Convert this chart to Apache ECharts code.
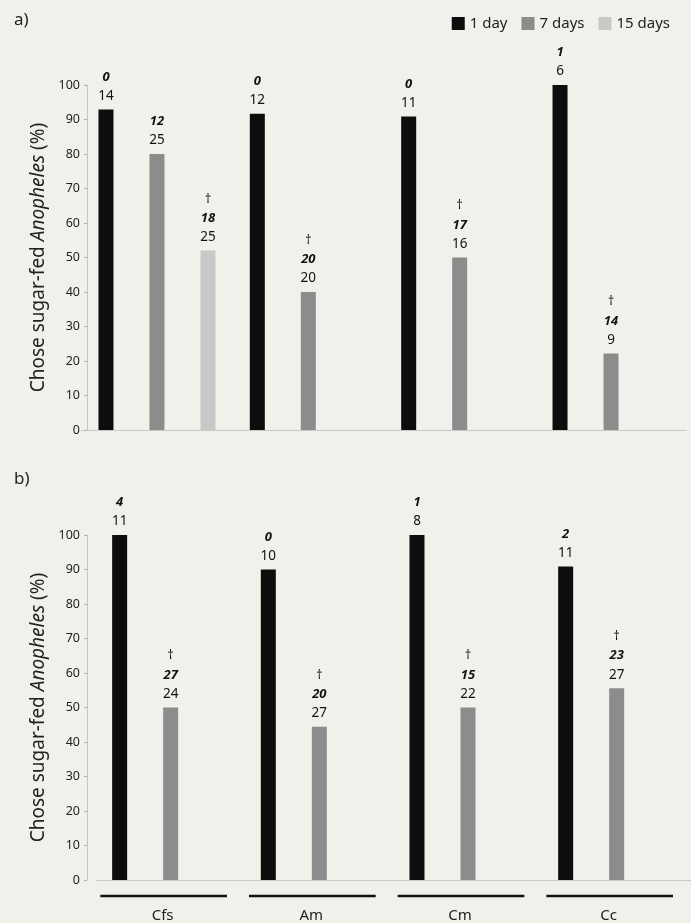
<!DOCTYPE html>
<html>
<head>
<meta charset="utf-8">
<script src="https://cdn.jsdelivr.net/npm/echarts@6/dist/echarts.min.js"></script>
<style>
html,body{margin:0;padding:0;background:#f1f0eb;}
#chart{width:691px;height:923px;}
</style>
</head>
<body>
<div id="chart"></div>
<script>
// ---- data ----
const categories = ['Cfs', 'Am', 'Cm', 'Cc'];
const seriesNames = ['1 day', '7 days', '15 days'];

// panel a) percentages
const aDay1 = [92.9, 91.7, 90.9, 100];
const aDay7 = [80, 40, 50, 22.2];
const aDay15 = [52, null, null, null];
// panel a) annotations: n (regular), bold italic count, dagger
const aN1 = [14, 12, 11, 6];
const aK1 = [0, 0, 0, 1];
const aD1 = [false, false, false, false];
const aN7 = [25, 20, 16, 9];
const aK7 = [12, 20, 17, 14];
const aD7 = [false, true, true, true];
const aN15 = [25, null, null, null];
const aK15 = [18, null, null, null];
const aD15 = [true, false, false, false];

// panel b) percentages
const bDay1 = [100, 90, 100, 90.9];
const bDay7 = [50, 44.4, 50, 55.6];
const bDay15 = [null, null, null, null];
const bN1 = [11, 10, 8, 11];
const bK1 = [4, 0, 1, 2];
const bD1 = [false, false, false, false];
const bN7 = [24, 27, 22, 27];
const bK7 = [27, 20, 15, 23];
const bD7 = [true, true, true, true];

const yMin = 0, yMax = 100, yStep = 10;

// ---- styles ----
const FONT = 'Noto Sans';
const colors = ['#0d0d0d', '#8c8c8c', '#c8c8c8'];

function makeLabel(n, k, d) {
  return {
    show: true,
    position: 'top',
    distance: 4,
    color: '#111',
    fontFamily: FONT,
    formatter: function (p) {
      const i = p.dataIndex;
      if (n[i] === null || n[i] === undefined) return '';
      const lines = [];
      if (d[i]) lines.push('{d|\u2020}');
      lines.push('{k|' + k[i] + '}');
      lines.push('{n|' + n[i] + '}');
      return lines.join('\n');
    },
    rich: {
      d: { fontSize: 12, lineHeight: 19, color: '#111', fontFamily: FONT },
      k: { fontSize: 13, fontWeight: 'bold', fontStyle: 'italic', lineHeight: 19, color: '#111', fontFamily: FONT },
      n: { fontSize: 13.5, lineHeight: 19, color: '#111', fontFamily: FONT }
    }
  };
}

function barSeries(name, data, gi, color, n, k, d) {
  return {
    name: name,
    type: 'bar',
    xAxisIndex: gi,
    yAxisIndex: gi,
    data: data,
    barWidth: 15,
    barGap: '240%',
    itemStyle: { color: color },
    label: makeLabel(n, k, d),
    silent: true
  };
}

function yAxis(gi, offset) {
  return {
    gridIndex: gi,
    type: 'value',
    min: yMin, max: yMax, interval: yStep,
    offset: offset,
    axisLine: { show: true, lineStyle: { color: '#c4c4c4', width: 1 } },
    axisTick: { show: true, length: 3, lineStyle: { color: '#b0b0b0' } },
    splitLine: { show: false },
    axisLabel: { fontSize: 12.5, color: '#222', margin: 7, fontFamily: FONT },
    name: 'Chose sugar-fed {i|Anopheles} (%)',
    nameLocation: 'middle',
    nameGap: 22,
    nameTextStyle: {
      fontSize: 19, color: '#222', fontFamily: FONT,
      rich: { i: { fontSize: 19, fontStyle: 'italic', color: '#222', fontFamily: FONT } }
    }
  };
}

const option = {
  backgroundColor: '#f1f0eb',
  animation: false,
  textStyle: { fontFamily: FONT },
  title: [
    { text: 'a)', left: 9, top: 7, textStyle: { fontSize: 17, fontWeight: 'normal', color: '#222', fontFamily: FONT } },
    { text: 'b)', left: 9, top: 466, textStyle: { fontSize: 17, fontWeight: 'normal', color: '#222', fontFamily: FONT } }
  ],
  legend: {
    data: seriesNames,
    right: 21, top: 16, padding: 0,
    itemWidth: 13, itemHeight: 13, itemGap: 14,
    icon: 'rect',
    textStyle: { fontSize: 15, color: '#222', fontFamily: FONT }
  },
  grid: [
    { left: 81.3, right: 4.3, top: 85, height: 345 },
    { left: 96.3, right: -10.7, top: 535, height: 346 }
  ],
  xAxis: [
    {
      gridIndex: 0, type: 'category', data: categories,
      axisLabel: { show: false }, axisTick: { show: false },
      axisLine: { lineStyle: { color: '#c8c8c8' } }
    },
    {
      gridIndex: 1, type: 'category', data: categories,
      axisTick: { show: false },
      axisLine: { lineStyle: { color: '#c8c8c8' } },
      axisLabel: { fontSize: 15, color: '#222', margin: 28, padding: [0, 16, 0, 0], fontFamily: FONT }
    }
  ],
  yAxis: [yAxis(0, -5.7), yAxis(1, 9.3)],
  series: [
    barSeries(seriesNames[0], aDay1, 0, colors[0], aN1, aK1, aD1),
    barSeries(seriesNames[1], aDay7, 0, colors[1], aN7, aK7, aD7),
    barSeries(seriesNames[2], aDay15, 0, colors[2], aN15, aK15, aD15),
    barSeries(seriesNames[0], bDay1, 1, colors[0], bN1, bK1, bD1),
    barSeries(seriesNames[1], bDay7, 1, colors[1], bN7, bK7, bD7),
    barSeries(seriesNames[2], bDay15, 1, colors[2], [null, null, null, null], [null, null, null, null], [false, false, false, false]),
    {
      type: 'custom',
      xAxisIndex: 1, yAxisIndex: 1,
      silent: true,
      clip: false,
      data: categories.map(function (c) { return [c, 0]; }),
      encode: { x: 0, y: 1 },
      renderItem: function (params, api) {
        const pt = api.coord([api.value(0), 0]);
        const band = api.size([1, 0])[0];
        return {
          type: 'line',
          shape: { x1: pt[0] - band / 2 + 4, y1: pt[1] + 16, x2: pt[0] + band / 2 - 18, y2: pt[1] + 16 },
          style: { stroke: '#111', lineWidth: 2.7 }
        };
      }
    }
  ]
};

const chart = echarts.init(document.getElementById('chart'), null, { renderer: 'canvas' });
chart.setOption(option);
</script>
</body>
</html>
